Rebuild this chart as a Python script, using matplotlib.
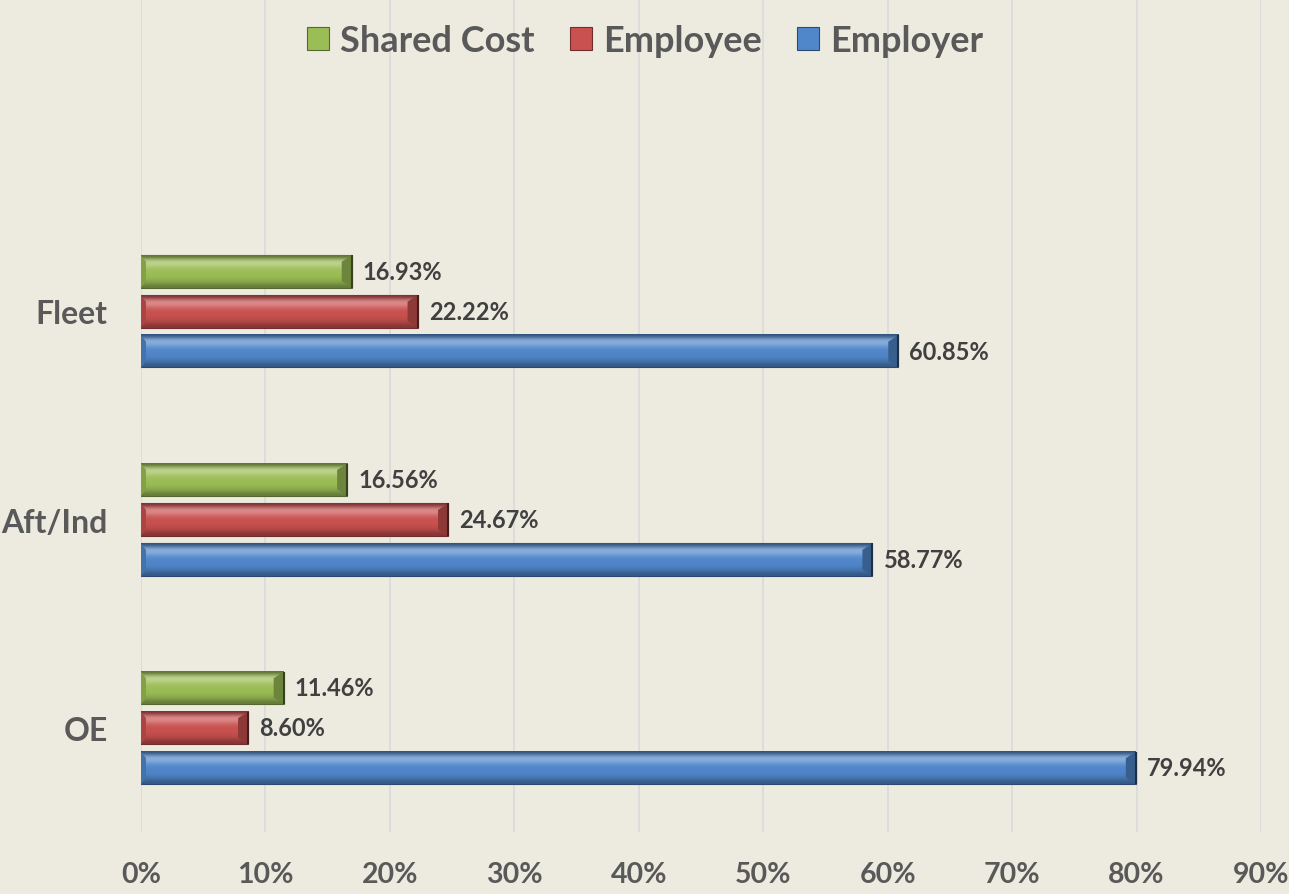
import matplotlib

matplotlib.use("Agg")
import matplotlib.pyplot as plt
import numpy as np
from matplotlib.colors import to_rgb

# data
categories = ["OE", "Aft/Ind", "Fleet"]
employer = [79.94, 58.77, 60.85]
employee = [8.60, 24.67, 22.22]
shared_cost = [11.46, 16.56, 16.93]
x_ticks = [0, 10, 20, 30, 40, 50, 60, 70, 80, 90]

BG = "#EDEBE0"
TEXT = "#595959"
LABEL = "#404040"
COLORS = {"Employer": "#5087CA", "Employee": "#C9514F", "Shared Cost": "#9BBD55"}

plt.rcParams["font.family"] = ["Lato", "DejaVu Sans"]
plt.rcParams["font.weight"] = "bold"


def shade(rgb, f):
    rgb = np.array(rgb)
    if f >= 1:
        return rgb + (1 - rgb) * (f - 1)
    return rgb * f


def bevel(ax, bars, color):
    # fake the office "bevel" look: vertical gradient + darker end caps
    base = to_rgb(color)
    prof = [0.6, 1.3, 1.35, 1.1, 1.0, 1.0, 0.95, 0.85, 0.65]
    grad = np.array([shade(base, f) for f in prof])[:, None, :]
    for b in bars:
        x0, y0, w, h = b.get_x(), b.get_y(), b.get_width(), b.get_height()
        ax.imshow(grad, extent=(x0, x0 + w, y0, y0 + h), origin="upper",
                  aspect="auto", interpolation="bicubic", zorder=3)
        cap = 0.008
        ax.fill([x0 + w - cap, x0 + w, x0 + w, x0 + w - cap],
                [y0 + h * 0.2, y0, y0 + h, y0 + h * 0.8],
                color=shade(base, 0.7), zorder=4, lw=0)
        ax.plot([x0 + w, x0 + w], [y0, y0 + h], color=shade(base, 0.35),
                lw=1.5, zorder=5, solid_capstyle="butt")
        ax.fill([x0, x0 + cap * 0.5, x0 + cap * 0.5, x0],
                [y0, y0 + h * 0.2, y0 + h * 0.8, y0 + h],
                color=shade(base, 0.85), zorder=4, lw=0)


fig = plt.figure(figsize=(12.89, 8.95), dpi=100, facecolor=BG)
ax = fig.add_axes([141 / 1289, 62 / 895, 1120 / 1289, 833 / 895])
ax.set_facecolor(BG)

y = np.arange(len(categories))
h = 0.155
step = 0.192
series = [("Employer", employer, -step), ("Employee", employee, 0), ("Shared Cost", shared_cost, step)]
handles = {}
for name, vals, off in series:
    bars = ax.barh(y + off, [v / 100 for v in vals], height=h, color=COLORS[name],
                   edgecolor=shade(to_rgb(COLORS[name]), 0.55), linewidth=0.8,
                   zorder=2, label=name)
    bevel(ax, bars, COLORS[name])
    handles[name] = bars
    for b, v in zip(bars, vals):
        ax.text(b.get_width() + 0.009, b.get_y() + h / 2, f"{v:.2f}%",
                va="center", ha="left", fontsize=17, color=LABEL, fontweight="bold")

ax.set_xlim(0, 0.9)
ax.set_ylim(-0.5, 3.5)
ax.set_xticks([t / 100 for t in x_ticks])
ax.set_xticklabels([f"{t}%" for t in x_ticks], fontsize=20.5, color=TEXT, fontweight="bold")
ax.set_yticks(y)
ax.set_yticklabels(categories, fontsize=23, color=TEXT, fontweight="bold")
ax.tick_params(length=0)
ax.tick_params(axis="x", pad=21)
ax.tick_params(axis="y", pad=24)
ax.grid(axis="x", color="#D9D9D9", linewidth=1.2, zorder=0)
ax.set_axisbelow(True)
for s in ax.spines.values():
    s.set_visible(False)

order = ["Shared Cost", "Employee", "Employer"]
leg = ax.legend([handles[n] for n in order], order, loc="upper center",
                bbox_to_anchor=(0.45, 1.009), ncol=3, frameon=False,
                fontsize=26, handlelength=0.6, handleheight=0.6,
                handletextpad=0.3, columnspacing=1.0)
for t in leg.get_texts():
    t.set_color(TEXT)
    t.set_fontweight("bold")

fig.savefig("out.png", dpi=100, facecolor=BG)
